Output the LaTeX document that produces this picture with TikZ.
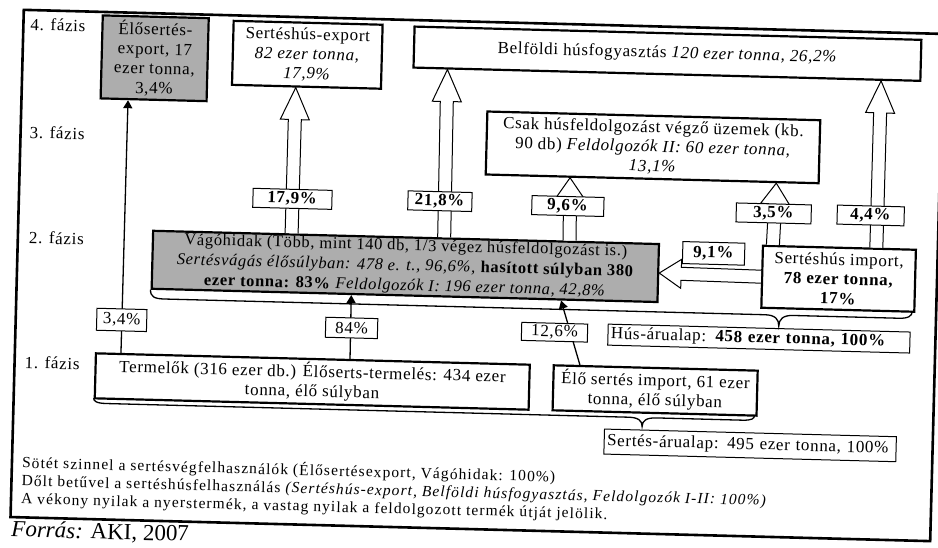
\documentclass[tikz,border=0pt]{standalone}
\usepackage{fontspec}
\setmainfont{Liberation Serif}[LetterSpace=4]
\newfontfamily\plainserif{Liberation Serif}
\usetikzlibrary{arrows.meta,calc}
\newcommand\bxfont{\fontsize{17}{19.5}\selectfont}
\newcommand\hsw{6.5pt}
\newcommand\hhw{14.5pt}
\newcommand\hollowarrow[3]{%
  \coordinate (hb) at ($(#2)!#3!(#1)$);
  \draw[hollow] ($(#1)!\hsw!90:(#2)$) -- ($(hb)!\hsw!90:(#2)$) -- ($(hb)!\hhw!90:(#2)$) -- (#2)
    -- ($(hb)!\hhw!-90:(#2)$) -- ($(hb)!\hsw!-90:(#2)$) -- ($(#1)!\hsw!-90:(#2)$);}
\begin{document}
\begin{tikzpicture}[x=1pt,y=-1pt,
  bx/.style={draw, line width=2.2pt, fill=white, inner sep=1pt, align=center, font=\bxfont, anchor=north west},
  dark/.style={bx, fill=black!32},
  pct/.style={draw, line width=1pt, fill=white, inner sep=1pt, font=\bxfont, minimum height=19},
  lab/.style={draw, line width=1pt, fill=white, inner xsep=3pt, inner ysep=1pt, anchor=north west, align=left, font=\bxfont},
  rawarrow/.style={line width=1.3pt, -{Triangle[length=8pt,width=9pt]}},
  hollow/.style={draw, line width=1pt, fill=white, line join=miter},
  brace/.style={line width=1.3pt},
  phase/.style={anchor=west, inner sep=0pt, font=\fontsize{17}{19}\selectfont},
  legend/.style={anchor=north west, inner sep=0pt, align=left, font=\addfontfeatures{LetterSpace=7}\fontsize{15.5}{18}\selectfont}]
\useasboundingbox (0,0) rectangle (938,547);
\begin{scope}[rotate around={-1.5:(470,275)}, transform shape]
% frame
\draw[line width=2.6pt] (17,21.6) rectangle (937,529);
% phases
\node[phase] (p4) at (24,36) {4. fázis};
\node[phase] (p3) at (26,144) {3. fázis};
\node[phase] (p2) at (28,249) {2. fázis};
\node[phase] (p1) at (27,374) {1. fázis};
% boxes
\node[dark, minimum width=106, minimum height=83] (eloexp) at (95,24) {Élősertés-\\export, 17\\ezer tonna,\\3,4\%};
\node[bx, minimum width=149, minimum height=64] (sexp) at (226,26) {Sertéshús-export\\\textit{82 ezer tonna,}\\\textit{17,9\%}};
\node[bx, minimum width=507, minimum height=41] (belf) at (407,27) {Belföldi húsfogyasztás \textit{120 ezer tonna, 26,2\%}};
\node[bx, minimum width=333, minimum height=63] (csak) at (482,110) {Csak húsfeldolgozást végző üzemek (kb.\\90 db) \textit{Feldolgozók II: 60 ezer tonna,}\\\textit{13,1\%}};
\node[dark, minimum width=506, minimum height=58, font=\fontsize{16.5}{20}\selectfont] (vago) at (151,238) {Vágóhidak (Több, mint 140 db, 1/3 végez húsfeldolgozást is.)\\\textit{Sertésvágás élősúlyban: 478 e. t., 96,6\%,} \textbf{hasított súlyban 380}\\\textbf{ezer tonna: 83\%} \textit{Feldolgozók I: 196 ezer tonna, 42,8\%}};
\node[bx, minimum width=153, minimum height=62] (simp) at (761,237) {Sertéshús import,\\\textbf{78 ezer tonna,}\\\textbf{17\%}};
\node[lab, minimum height=21, text width=296] (husa) at (609,320) {Hús-árualap: \textbf{458 ezer tonna, 100\%}};
\node[bx, minimum width=434, minimum height=45] (term) at (97,362) {Termelők (316 ezer db.) Élőserts-termelés: 434 ezer\\tonna, élő súlyban};
\node[bx, minimum width=204, minimum height=45] (eloimp) at (555,362) {Élő sertés import, 61 ezer\\tonna, élő súlyban};
\node[lab, minimum height=25, text width=286] (sersa) at (608,425) {Sertés-árualap: 495 ezer tonna, 100\%};
% hollow arrows (processed product)
\coordinate (a1b) at ($(vago.north west)!0.2747!(vago.north east)$);
\coordinate (a1t) at ($(sexp.south west)!0.4295!(sexp.south east)$);
\hollowarrow{a1b}{a1t}{32pt}
\coordinate (a2b) at ($(vago.north west)!0.5751!(vago.north east)$);
\coordinate (a2t) at ($(belf.south west)!0.0690!(belf.south east)$);
\hollowarrow{a2b}{a2t}{32pt}
\coordinate (a3b) at ($(vago.north west)!0.8221!(vago.north east)$);
\coordinate (a3t) at ($(csak.south west)!0.2553!(csak.south east)$);
\hollowarrow{a3b}{a3t}{21pt}
\coordinate (a4b) at ($(simp.north west)!0.0719!(simp.north east)$);
\coordinate (a4t) at ($(csak.south west)!0.8709!(csak.south east)$);
\hollowarrow{a4b}{a4t}{21pt}
\coordinate (a5b) at ($(simp.north west)!0.7386!(simp.north east)$);
\coordinate (a5t) at ($(belf.south west)!0.9211!(belf.south east)$);
\hollowarrow{a5b}{a5t}{32pt}
\hollowarrow{simp.west}{vago.east}{22pt}
% thin arrows (raw product)
\coordinate (t1b) at ($(term.north west)!0.0599!(term.north east)$);
\coordinate (t1t) at ($(eloexp.south west)!0.264!(eloexp.south east)$);
\draw[rawarrow] (t1b) -- (t1t);
\coordinate (t2b) at ($(term.north west)!0.5853!(term.north east)$);
\coordinate (t2t) at ($(vago.south west)!0.3953!(vago.south east)$);
\draw[rawarrow] (t2b) -- (t2t);
\coordinate (t3b) at ($(eloimp.north west)!0.1324!(eloimp.north east)$);
\coordinate (t3t) at ($(vago.south west)!0.8083!(vago.south east)$);
\draw[rawarrow] (t3b) -- (t3t);
% braces
\draw[brace] (151,298) .. controls (151,305) and (155,307) .. (165,307) -- (766,307) .. controls (776,307) and (780,311) .. (780,318) .. controls (780,311) and (784,307) .. (794,307) -- (900,307) .. controls (910,307) and (913,304) .. (913,300);
\draw[brace] (97,408) .. controls (97,411) and (100,413) .. (110,413) -- (632,413) .. controls (642,413) and (646,416) .. (646,422) .. controls (646,416) and (650,413) .. (660,413) -- (746,413) .. controls (756,413) and (758,411) .. (758,408);
% percentage labels
\node[pct, minimum width=79] (l1) at (290.5,203.5) {\textbf{17,9\%}};
\node[pct, minimum width=64] (l2) at (438,202) {\textbf{21,8\%}};
\node[pct, minimum width=72] (l3) at (566,203.5) {\textbf{9,6\%}};
\node[pct, minimum width=75] (l4) at (772,205.5) {\textbf{3,5\%}};
\node[pct, minimum width=67] (l5) at (869,205) {\textbf{4,4\%}};
\node[pct, minimum width=62, minimum height=22] (l6) at (713,247) {\textbf{9,1\%}};
\node[pct, minimum width=50, minimum height=22] (l7) at (123,329) {3,4\%};
\node[pct, minimum width=52, minimum height=20] (l8) at (353,331) {84\%};
\node[pct, minimum width=66, minimum height=18] (l9) at (556,330) {12,6\%};
% legend
\node[legend] (lg) at (27,466) {Sötét szinnel a sertésvégfelhasználók (Élősertésexport, Vágóhidak: 100\%)\\Dőlt betűvel a sertéshúsfelhasználás \textit{(Sertéshús-export, Belföldi húsfogyasztás, Feldolgozók I-II: 100\%)}\\A vékony nyilak a nyerstermék, a vastag nyilak a feldolgozott termék útját jelölik.};
\node[anchor=base west, inner sep=0pt, font=\plainserif\fontsize{23}{25}\selectfont] (src) at (18,548.5) {\textit{Forrás:} AKI, 2007};
\end{scope}
\end{tikzpicture}
\end{document}
